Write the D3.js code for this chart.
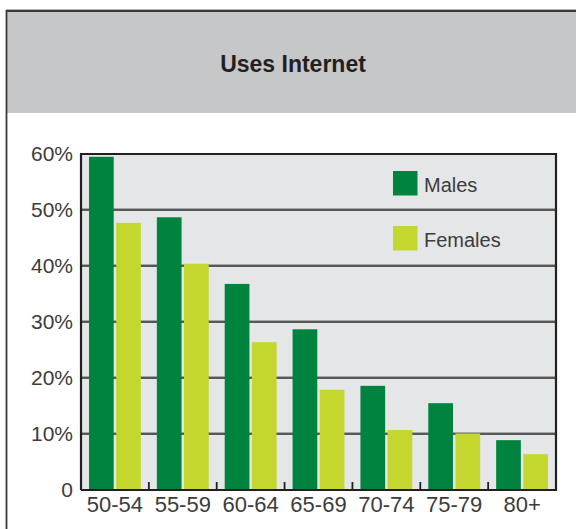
<!DOCTYPE html>
<html>
<head>
<meta charset="utf-8">
<script src="https://cdn.jsdelivr.net/npm/d3@7/dist/d3.min.js"></script>
<style>
  html, body { margin: 0; padding: 0; background: #fff; }
  svg { display: block; }
  text { font-family: "Liberation Sans", Arial, sans-serif; }
</style>
</head>
<body>
<svg id="chart" width="576" height="529"></svg>
<script>
// Données
const ageGroups = ["50-54", "55-59", "60-64", "65-69", "70-74", "75-79", "80+"];
const males = [59.5, 48.7, 36.8, 28.7, 18.6, 15.5, 8.9];
const females = [47.7, 40.4, 26.4, 17.9, 10.7, 10.1, 6.4];
const seriesNames = ["Males", "Females"];
const yTicks = [0, 10, 20, 30, 40, 50, 60];
const title = "Uses Internet";

const couleurs = ["#00833e", "#c3d72f"];

const svg = d3.select("#chart");

const plot = { left: 81, right: 556, top: 154, bottom: 490 };

// Cadre + bandeau du titre
svg.append("line")
    .attr("x1", 6).attr("x2", 600)
    .attr("y1", 9.5).attr("y2", 9.5)
    .attr("stroke", "#b5b5b5")
    .attr("stroke-width", 1);

svg.append("rect")
    .attr("x", 6.5).attr("y", 11)
    .attr("width", 600).attr("height", 102)
    .attr("fill", "#c6c7c9");

svg.append("path")
    .attr("d", "M6.5,540 V11 H600")
    .attr("fill", "none")
    .attr("stroke", "#3a3a3a")
    .attr("stroke-width", 1.8);

svg.append("text")
    .attr("x", 293)
    .attr("y", 72)
    .attr("text-anchor", "middle")
    .attr("font-size", 23)
    .attr("font-weight", "bold")
    .attr("fill", "#231f20")
    .text(title);

// Échelles
const x = d3.scaleBand()
    .domain(ageGroups)
    .range([plot.left, plot.right])
    .padding(0);

const xInner = d3.scaleBand()
    .domain(seriesNames)
    .range([8, x.bandwidth() - 8])
    .paddingInner(0.09);

const y = d3.scaleLinear()
    .domain([0, 60])
    .range([plot.bottom, plot.top]);

const color = d3.scaleOrdinal()
    .domain(seriesNames)
    .range(couleurs);

// Fond
svg.append("rect")
    .attr("x", plot.left).attr("y", plot.top)
    .attr("width", plot.right - plot.left)
    .attr("height", plot.bottom - plot.top)
    .attr("fill", "#e5e6e8");

// Grille
const grid = svg.append("g");
grid.selectAll(".shade")
    .data(yTicks.filter(d => d > 0 && d < 60))
    .enter()
    .append("line")
    .attr("x1", plot.left).attr("x2", plot.right)
    .attr("y1", d => y(d) - 1.3).attr("y2", d => y(d) - 1.3)
    .attr("stroke", "#9a9a9a")
    .attr("stroke-width", 1);
grid.selectAll(".major")
    .data(yTicks.filter(d => d > 0 && d < 60))
    .enter()
    .append("line")
    .attr("x1", plot.left).attr("x2", plot.right)
    .attr("y1", d => y(d)).attr("y2", d => y(d))
    .attr("stroke", "#2b2b2b")
    .attr("stroke-width", 1.6);

// Barres
const rows = ageGroups.map((g, i) => ({ group: g, values: [males[i], females[i]] }));

const groups = svg.append("g")
    .selectAll("g")
    .data(rows)
    .enter()
    .append("g")
    .attr("transform", d => "translate(" + x(d.group) + ",0)");

groups.selectAll("rect")
    .data(d => d.values.map((v, j) => ({ key: seriesNames[j], value: v })))
    .enter()
    .append("rect")
    .attr("x", d => xInner(d.key))
    .attr("width", xInner.bandwidth())
    .attr("y", d => y(d.value))
    .attr("height", d => y(0) - y(d.value))
    .attr("fill", d => color(d.key));

// Bordures du graphique
svg.append("path")
    .attr("d", "M" + plot.left + "," + plot.bottom + " V" + plot.top + " H" + plot.right + " V" + plot.bottom + " H" + plot.left)
    .attr("fill", "none")
    .attr("stroke", "#231f20")
    .attr("stroke-width", 2.2);

// Petits traits entre les groupes
svg.append("g")
    .selectAll("line")
    .data(ageGroups.slice(1))
    .enter()
    .append("line")
    .attr("x1", d => x(d)).attr("x2", d => x(d))
    .attr("y1", plot.bottom).attr("y2", plot.bottom - 8)
    .attr("stroke", "#231f20")
    .attr("stroke-width", 1.8);

// Axe Y
const yAxis = svg.append("g")
    .attr("transform", "translate(" + plot.left + ",0)")
    .call(d3.axisLeft(y)
        .tickValues(yTicks)
        .tickSize(0)
        .tickPadding(8)
        .tickFormat(d => d === 0 ? "0" : d + "%"));
yAxis.select(".domain").remove();
yAxis.selectAll("text")
    .attr("font-size", 21)
    .attr("font-family", "Liberation Sans, Arial, sans-serif")
    .attr("fill", "#3c3c3c");

// Axe X
const xAxis = svg.append("g")
    .attr("transform", "translate(0," + plot.bottom + ")")
    .call(d3.axisBottom(x).tickSize(0).tickPadding(6));
xAxis.select(".domain").remove();
xAxis.selectAll("text")
    .attr("font-size", 22)
    .attr("font-family", "Liberation Sans, Arial, sans-serif")
    .attr("fill", "#3c3c3c");

// Légende
const legende = svg.append("g")
    .selectAll("g")
    .data(seriesNames)
    .enter()
    .append("g")
    .attr("transform", (d, i) => "translate(393," + (171 + i * 55) + ")");

legende.append("rect")
    .attr("width", 24.5)
    .attr("height", 24.5)
    .attr("fill", d => color(d));

legende.append("text")
    .attr("x", 31)
    .attr("y", 20.5)
    .attr("font-size", 20)
    .attr("fill", "#3c3c3c")
    .text(d => d);
</script>
</body>
</html>
